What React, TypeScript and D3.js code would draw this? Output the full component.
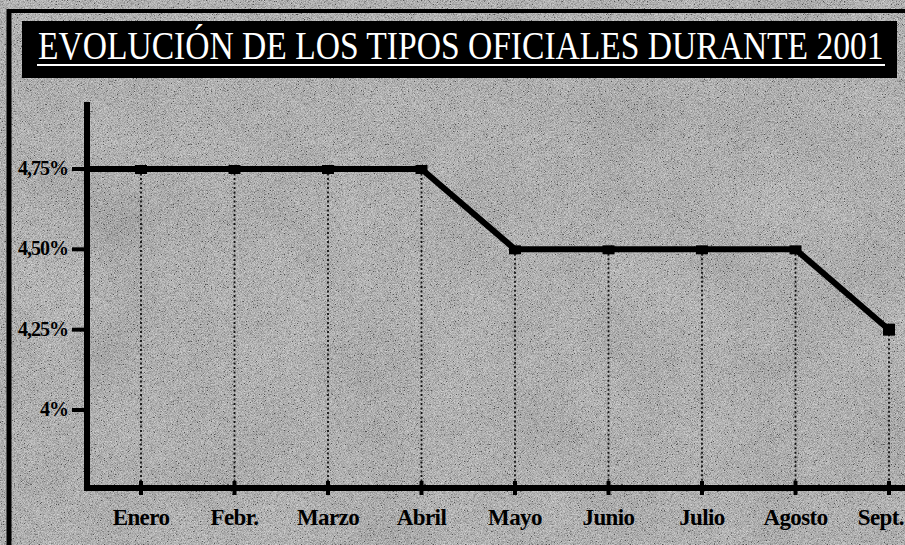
import React, { useEffect, useRef } from 'react';
import * as d3 from 'd3';

const months = ['Enero', 'Febr.', 'Marzo', 'Abril', 'Mayo', 'Junio', 'Julio', 'Agosto', 'Sept.'];
const rates = [4.75, 4.75, 4.75, 4.75, 4.5, 4.5, 4.5, 4.5, 4.25];
const yTicks = [4, 4.25, 4.5, 4.75];
const yTickLabels = ['4%', '4,25%', '4,50%', '4,75%'];
const title = 'EVOLUCIÓN DE LOS TIPOS OFICIALES DURANTE 2001';

const App = () => {
  const svgRef = useRef<SVGSVGElement>(null);

  useEffect(() => {
    const width = 905;
    const height = 545;
    const svg = d3.select(svgRef.current);
    svg.selectAll('*').remove();
    svg.attr('width', width).attr('height', height);

    const serif = '"Liberation Serif", "DejaVu Serif", serif';
    const axisX = 87;
    const axisY = 488;

    // paper texture
    const defs = svg.append('defs');
    const grain = defs.append('filter').attr('id', 'grain').attr('x', 0).attr('y', 0).attr('width', 1).attr('height', 1);
    grain.append('feTurbulence').attr('type', 'fractalNoise').attr('baseFrequency', 1.3).attr('numOctaves', 1).attr('seed', 4);
    grain.append('feColorMatrix').attr('type', 'matrix')
      .attr('values', '0.33 0.33 0.33 0 0  0.33 0.33 0.33 0 0  0.33 0.33 0.33 0 0  0 0 0 0 1');
    const ct = grain.append('feComponentTransfer');
    ['feFuncR', 'feFuncG', 'feFuncB'].forEach((f) => ct.append(f).attr('type', 'linear').attr('slope', 3).attr('intercept', -1));
    const blot = defs.append('filter').attr('id', 'blot').attr('x', 0).attr('y', 0).attr('width', 1).attr('height', 1);
    blot.append('feTurbulence').attr('type', 'fractalNoise').attr('baseFrequency', 0.012).attr('numOctaves', 3).attr('seed', 7);
    blot.append('feColorMatrix').attr('type', 'matrix')
      .attr('values', '0.33 0.33 0.33 0 0  0.33 0.33 0.33 0 0  0.33 0.33 0.33 0 0  0 0 0 0 1');

    svg.append('rect').attr('width', width).attr('height', height).attr('fill', '#979797');
    svg.append('rect').attr('width', width).attr('height', height).attr('filter', 'url(#blot)').attr('opacity', 0.4);
    svg.append('rect').attr('width', width).attr('height', height).attr('filter', 'url(#grain)').attr('opacity', 0.5);

    // frame
    svg.append('line').attr('x1', 9).attr('x2', 9).attr('y1', 9).attr('y2', height).attr('stroke', '#000').attr('stroke-width', 5);
    svg.append('line').attr('x1', 7).attr('x2', width).attr('y1', 11).attr('y2', 11).attr('stroke', '#000').attr('stroke-width', 4);

    // title box, text sized to fit the box width
    svg.append('rect').attr('x', 22).attr('y', 21).attr('width', 875).attr('height', 57).attr('fill', '#000');
    const titleW = 846;
    const tt = svg.append('text')
      .attr('fill', '#fff')
      .style('font-family', serif).style('font-size', '40px')
      .text(title);
    const natural = (tt.node() as SVGTextElement).getComputedTextLength();
    const fs = (40 * titleW) / natural;
    tt.style('font-size', `${fs}px`)
      .attr('transform', `translate(38,59) scale(1,${40 / fs})`);
    svg.append('line').attr('x1', 37).attr('x2', 885).attr('y1', 65).attr('y2', 65).attr('stroke', '#fff').attr('stroke-width', 2);

    const x = d3.scalePoint<string>().domain(months).range([141, 889]);
    const y = d3.scaleLinear().domain([4, 4.75]).range([410, 169]);

    // dotted drop lines
    svg.append('g').selectAll('line').data(rates).join('line')
      .attr('x1', (d, i) => x(months[i])!).attr('x2', (d, i) => x(months[i])!)
      .attr('y1', (d) => y(d)).attr('y2', axisY)
      .attr('stroke', '#111').attr('stroke-width', 1.8).attr('stroke-dasharray', '2,2.5');

    // y axis
    svg.append('line').attr('x1', axisX).attr('x2', axisX).attr('y1', 102).attr('y2', axisY + 3)
      .attr('stroke', '#000').attr('stroke-width', 6);
    const yg = svg.append('g');
    yg.selectAll('line').data(yTicks).join('line')
      .attr('x1', 72).attr('x2', axisX).attr('y1', (d) => y(d)).attr('y2', (d) => y(d))
      .attr('stroke', '#000').attr('stroke-width', 4);
    yg.selectAll('text').data(yTicks).join('text')
      .attr('x', 68).attr('y', (d) => y(d) + 6)
      .attr('text-anchor', 'end')
      .style('font-family', serif).style('font-size', '20px').style('font-weight', 'bold')
      .style('letter-spacing', '-1px')
      .attr('fill', '#000')
      .text((d, i) => yTickLabels[i]);

    // x axis
    svg.append('line').attr('x1', axisX - 3).attr('x2', width).attr('y1', axisY).attr('y2', axisY)
      .attr('stroke', '#000').attr('stroke-width', 6);
    const xg = svg.append('g');
    xg.selectAll('line').data(months).join('line')
      .attr('x1', (d) => x(d)!).attr('x2', (d) => x(d)!).attr('y1', axisY - 7).attr('y2', axisY + 7)
      .attr('stroke', '#000').attr('stroke-width', 4);
    xg.selectAll('text').data(months).join('text')
      .attr('x', (d, i) => (i === months.length - 1 ? width - 1 : x(d)!)).attr('y', 525)
      .attr('text-anchor', (d, i) => (i === months.length - 1 ? 'end' : 'middle'))
      .style('font-family', serif).style('font-size', '23px').style('font-weight', 'bold')
      .style('letter-spacing', '-0.6px')
      .attr('fill', '#000')
      .text((d) => d);

    // rate line, starting from the axis
    const pts: [number, number][] = [[axisX, y(rates[0])], ...rates.map((d, i) => [x(months[i])!, y(d)] as [number, number])];
    svg.append('path')
      .attr('d', d3.line()(pts))
      .attr('fill', 'none').attr('stroke', '#000').attr('stroke-width', 6).attr('stroke-linejoin', 'miter');

    svg.append('g').selectAll('rect').data(rates).join('rect')
      .attr('x', (d, i) => x(months[i])! - 6).attr('y', (d, i) => y(d) - (i === rates.length - 1 ? 6 : 4))
      .attr('width', 12).attr('height', (d, i) => (i === rates.length - 1 ? 12 : 9))
      .attr('fill', '#000');
  }, []);

  return <svg ref={svgRef} style={{ position: 'absolute', left: 0, top: 0, display: 'block' }} />;
};

export default App;
